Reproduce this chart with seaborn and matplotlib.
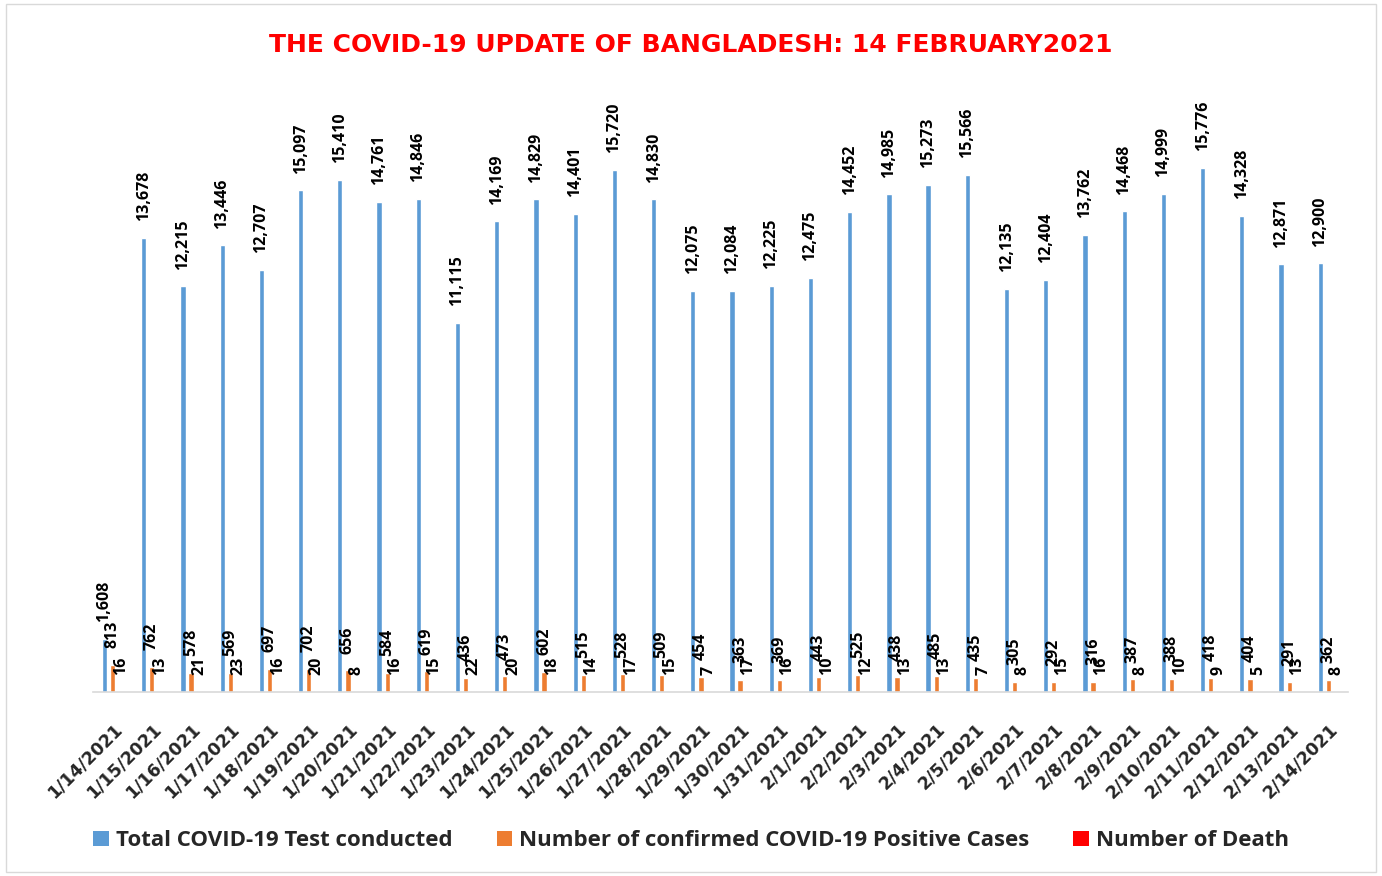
import matplotlib
matplotlib.use("Agg")
import matplotlib.pyplot as plt
import seaborn as sns
import pandas as pd
from matplotlib.patches import Patch, Rectangle

dates = ["1/14/2021", "1/15/2021", "1/16/2021", "1/17/2021", "1/18/2021", "1/19/2021",
         "1/20/2021", "1/21/2021", "1/22/2021", "1/23/2021", "1/24/2021", "1/25/2021",
         "1/26/2021", "1/27/2021", "1/28/2021", "1/29/2021", "1/30/2021", "1/31/2021",
         "2/1/2021", "2/2/2021", "2/3/2021", "2/4/2021", "2/5/2021", "2/6/2021",
         "2/7/2021", "2/8/2021", "2/9/2021", "2/10/2021", "2/11/2021", "2/12/2021",
         "2/13/2021", "2/14/2021"]
tests = [1608, 13678, 12215, 13446, 12707, 15097, 15410, 14761, 14846, 11115, 14169, 14829,
         14401, 15720, 14830, 12075, 12084, 12225, 12475, 14452, 14985, 15273, 15566, 12135,
         12404, 13762, 14468, 14999, 15776, 14328, 12871, 12900]
positive = [813, 762, 578, 569, 697, 702, 656, 584, 619, 436, 473, 602, 515, 528, 509, 454,
            363, 369, 443, 525, 438, 485, 435, 305, 292, 316, 387, 388, 418, 404, 291, 362]
deaths = [16, 13, 21, 23, 16, 20, 8, 16, 15, 22, 20, 18, 14, 17, 15, 7, 17, 16, 10, 12, 13,
          13, 7, 8, 15, 16, 8, 10, 9, 5, 13, 8]
series = ["Total COVID-19 Test conducted", "Number of confirmed COVID-19 Positive Cases",
          "Number of Death"]
colors = ["#5B9BD5", "#ED7D31", "#FF0000"]
title = "THE COVID-19 UPDATE OF BANGLADESH: 14 FEBRUARY2021"

df = pd.DataFrame({
    "date": dates * 3,
    "value": tests + positive + deaths,
    "series": [series[0]] * len(dates) + [series[1]] * len(dates) + [series[2]] * len(dates),
})

sns.set_theme(style="white")
plt.rcParams["font.family"] = ["Open Sans", "DejaVu Sans"]

fig = plt.figure(figsize=(13.82, 8.76), dpi=100)
ax = fig.add_axes([0.0673, 0.21, 0.9081, 0.6827])

sns.barplot(data=df, x="date", y="value", hue="series", hue_order=series,
            palette=colors, order=dates, width=0.62, gap=0.35, ax=ax,
            saturation=1, legend=False, errorbar=None)

for cont, vals in zip(ax.containers, [tests, positive, deaths]):
    ax.bar_label(cont, labels=[f"{v:,}" for v in vals], rotation=90, padding=12,
                 fontsize=11.5, fontweight="bold", color="black")

ax.set_ylim(0, 18000)
ax.set_xlim(-0.5, len(dates) - 0.5)
ax.set_yticks([])
ax.set_xlabel("")
ax.set_ylabel("")
for s in ["top", "right", "left"]:
    ax.spines[s].set_visible(False)
ax.spines["bottom"].set_color("#d9d9d9")
ax.spines["bottom"].set_linewidth(1.2)

ax.set_xticks(range(len(dates)))
ax.set_xticklabels(dates, rotation=45, ha="right", rotation_mode="anchor",
                   fontsize=12.5, fontweight="bold", family=["DejaVu Sans"])
ax.tick_params(axis="x", which="major", length=0, pad=20)
ax.set_xticks([i - 0.5 for i in range(len(dates) + 1)], minor=True)
ax.tick_params(axis="x", which="minor", length=8, color="#d9d9d9", width=1.2)

fig.text(0.5, 0.949, title, ha="center", va="center", color="#FF0000",
         fontsize=18, fontweight="bold", family=["DejaVu Sans"])

handles = [Patch(facecolor=c, edgecolor="none") for c in colors]
fig.legend(handles, series, loc="center", bbox_to_anchor=(0.5, 0.04), ncol=3,
           frameon=False, handlelength=0.7, handleheight=0.7,
           handletextpad=0.3, columnspacing=2.0,
           prop={"weight": "bold", "size": 16})

fig.patches.append(Rectangle((0.004, 0.004), 0.992, 0.992, transform=fig.transFigure,
                             fill=False, edgecolor="#d9d9d9", linewidth=1))

fig.savefig("out.png", dpi=100)
